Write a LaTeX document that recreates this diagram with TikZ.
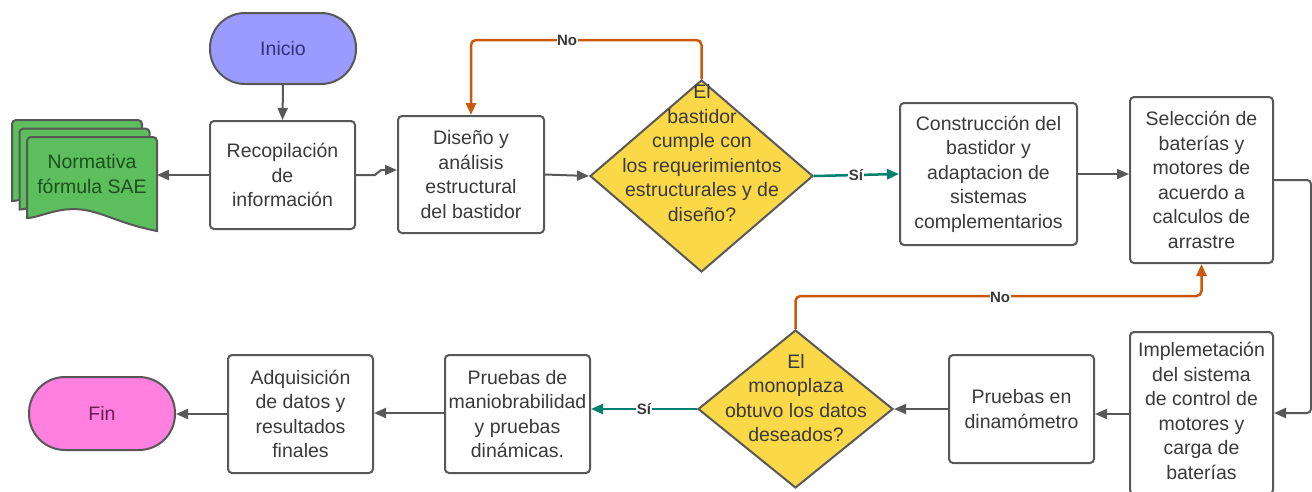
\documentclass[tikz,border=0pt]{standalone}
\usepackage{fontspec}
\setmainfont{Liberation Sans}
\usetikzlibrary{arrows.meta,shapes.geometric}
\definecolor{lgray}{RGB}{88,88,88}
\definecolor{tgray}{RGB}{58,58,58}
\definecolor{inifill}{RGB}{155,155,255}
\definecolor{finfill}{RGB}{255,128,222}
\definecolor{decfill}{RGB}{250,216,72}
\definecolor{docfill}{RGB}{92,190,92}
\definecolor{noline}{RGB}{204,88,10}
\definecolor{siline}{RGB}{0,128,112}
\tikzset{
  txt/.style={font=\fontsize{19.5}{24.5}\selectfont, text=tgray, align=center},
  procbox/.style={txt, draw=lgray, line width=2pt, rounded corners=4pt, fill=white, inner sep=0pt},
  terminal/.style={txt, draw=lgray, line width=2pt, rounded corners=35pt, inner sep=0pt},
  decision/.style={diamond, draw=lgray, line width=2pt, fill=decfill, inner sep=0pt},
  arr/.style={draw=lgray, line width=2pt, -{Triangle[length=12pt,width=10pt]}},
  noarr/.style={arr, draw=noline, line width=2.5pt, rounded corners=5pt},
  siarr/.style={arr, draw=siline, line width=2.5pt},
  lbl/.style={font=\fontsize{15}{16}\bfseries, text=tgray, fill=white, inner sep=0.5pt},
  docsheet/.style={draw=lgray, line width=2pt, fill=docfill, rounded corners=4pt}
}
\begin{document}
\begin{tikzpicture}[x=1pt,y=-1pt]
\useasboundingbox (0,0) rectangle (1312,491);
\clip (0,0) rectangle (1312,491);

% document stack
\foreach \dx/\dy in {-15/-17,-7.5/-8.5,0/0}{
  \draw[docsheet] (27+\dx,218+\dy) -- (27+\dx,137+\dy) -- (157+\dx,137+\dy)
     [sharp corners] -- (157+\dx,231+\dy)
     .. controls (110+\dx,222+\dy) and (95+\dx,205+\dy) .. (62+\dx,210+\dy)
     .. controls (45+\dx,213+\dy) and (35+\dx,218+\dy) .. (27+\dx,218+\dy) -- cycle;
}
\node[txt, text={rgb,255:red,30;green,80;blue,30}] (norm) at (92,174) {Normativa\\fórmula SAE};
\coordinate (normE) at (157,175);

% terminals
\node[terminal, fill=inifill, minimum width=146pt, minimum height=71pt, text={rgb,255:red,50;green,50;blue,120}] (inicio) at (283,48.5) {Inicio};
\node[terminal, fill=finfill, minimum width=146pt, minimum height=73pt, rounded corners=36pt, text={rgb,255:red,100;green,30;blue,90}] (fin) at (102,413.5) {Fin};

% process boxes
\node[procbox, minimum width=145pt, minimum height=108pt] (recop) at (282.5,175) {Recopilación\\de\\información};
\node[procbox, minimum width=146pt, minimum height=117pt] (diseno) at (471,174.5) {Diseño y\\análisis\\estructural\\del bastidor};
\node[procbox, minimum width=177pt, minimum height=142pt] (constr) at (988.5,174) {Construcción del\\bastidor y\\adaptacion de\\sistemas\\complementarios};
\node[procbox, minimum width=143pt, minimum height=166pt] (selec) at (1201.5,180) {Selección de\\baterías y\\motores de\\acuerdo a\\calculos de\\arrastre};
\node[procbox, minimum width=143pt, minimum height=162pt] (impl) at (1201.5,413) {};
\node[txt] (implt) at (1201.5,411) {Implemetación\\del sistema\\de control de\\motores y\\carga de\\baterías};
\node[procbox, minimum width=145pt, minimum height=108pt] (dinam) at (1021.5,409) {Pruebas en\\dinamómetro};
\node[procbox, minimum width=145pt, minimum height=118pt] (maniob) at (517.5,414) {Pruebas de\\maniobrabilidad\\y pruebas\\dinámicas.};
\node[procbox, minimum width=145pt, minimum height=118pt] (adq) at (300.5,414) {Adquisición\\de datos y\\resultados\\finales};

% decisions
\node[decision, minimum width=223pt, minimum height=192pt] (d1) at (701.5,176) {};
\node[txt] (d1t) at (702,153) {El\\bastidor\\cumple con\\los requerimientos\\estructurales y de\\diseño?};
\node[decision, minimum width=195pt, minimum height=158pt] (d2) at (795.5,409) {};
\node[txt] (d2t) at (796,398) {El\\monoplaza\\obtuvo los datos\\deseados?};

% connectors
\draw[arr] (inicio.south) -- (recop.north);
\draw[arr] (recop.west) -- (normE);
\draw[arr] (recop.east) -- ++(19,0) -- ++(6,-5) -- (diseno.west |- 0,170);
\draw[arr] (diseno.east) -- (d1.west);
\draw[noarr] (d1.north) -- (701.5,40) -- (471,40) -- (diseno.north);
\node[lbl] (no1) at (567,40) {No};
\draw[siarr] (d1.east) -- (constr.west);
\node[lbl] (si1) at (856,175) {Sí};
\draw[arr] (constr.east) -- (selec.west |- constr.east);
\draw[arr, rounded corners=4pt] (selec.east) -- ++(37,0) |- (impl.east);
\draw[arr] (impl.west |- 0,414) -- (dinam.east |- 0,414);
\draw[arr] (dinam.west) -- (d2.east);
\draw[noarr] (d2.north) -- ++(0,-33) -| (selec.south);
\node[lbl] (no2) at (1000,297) {No};
\draw[siarr] (d2.west) -- (maniob.east |- d2.west);
\node[lbl] (si2) at (644,409) {Sí};
\draw[arr] (maniob.west |- 0,413) -- (adq.east |- 0,413);
\draw[arr] (adq.west |- 0,414) -- (fin.east |- 0,414);
\end{tikzpicture}
\end{document}
